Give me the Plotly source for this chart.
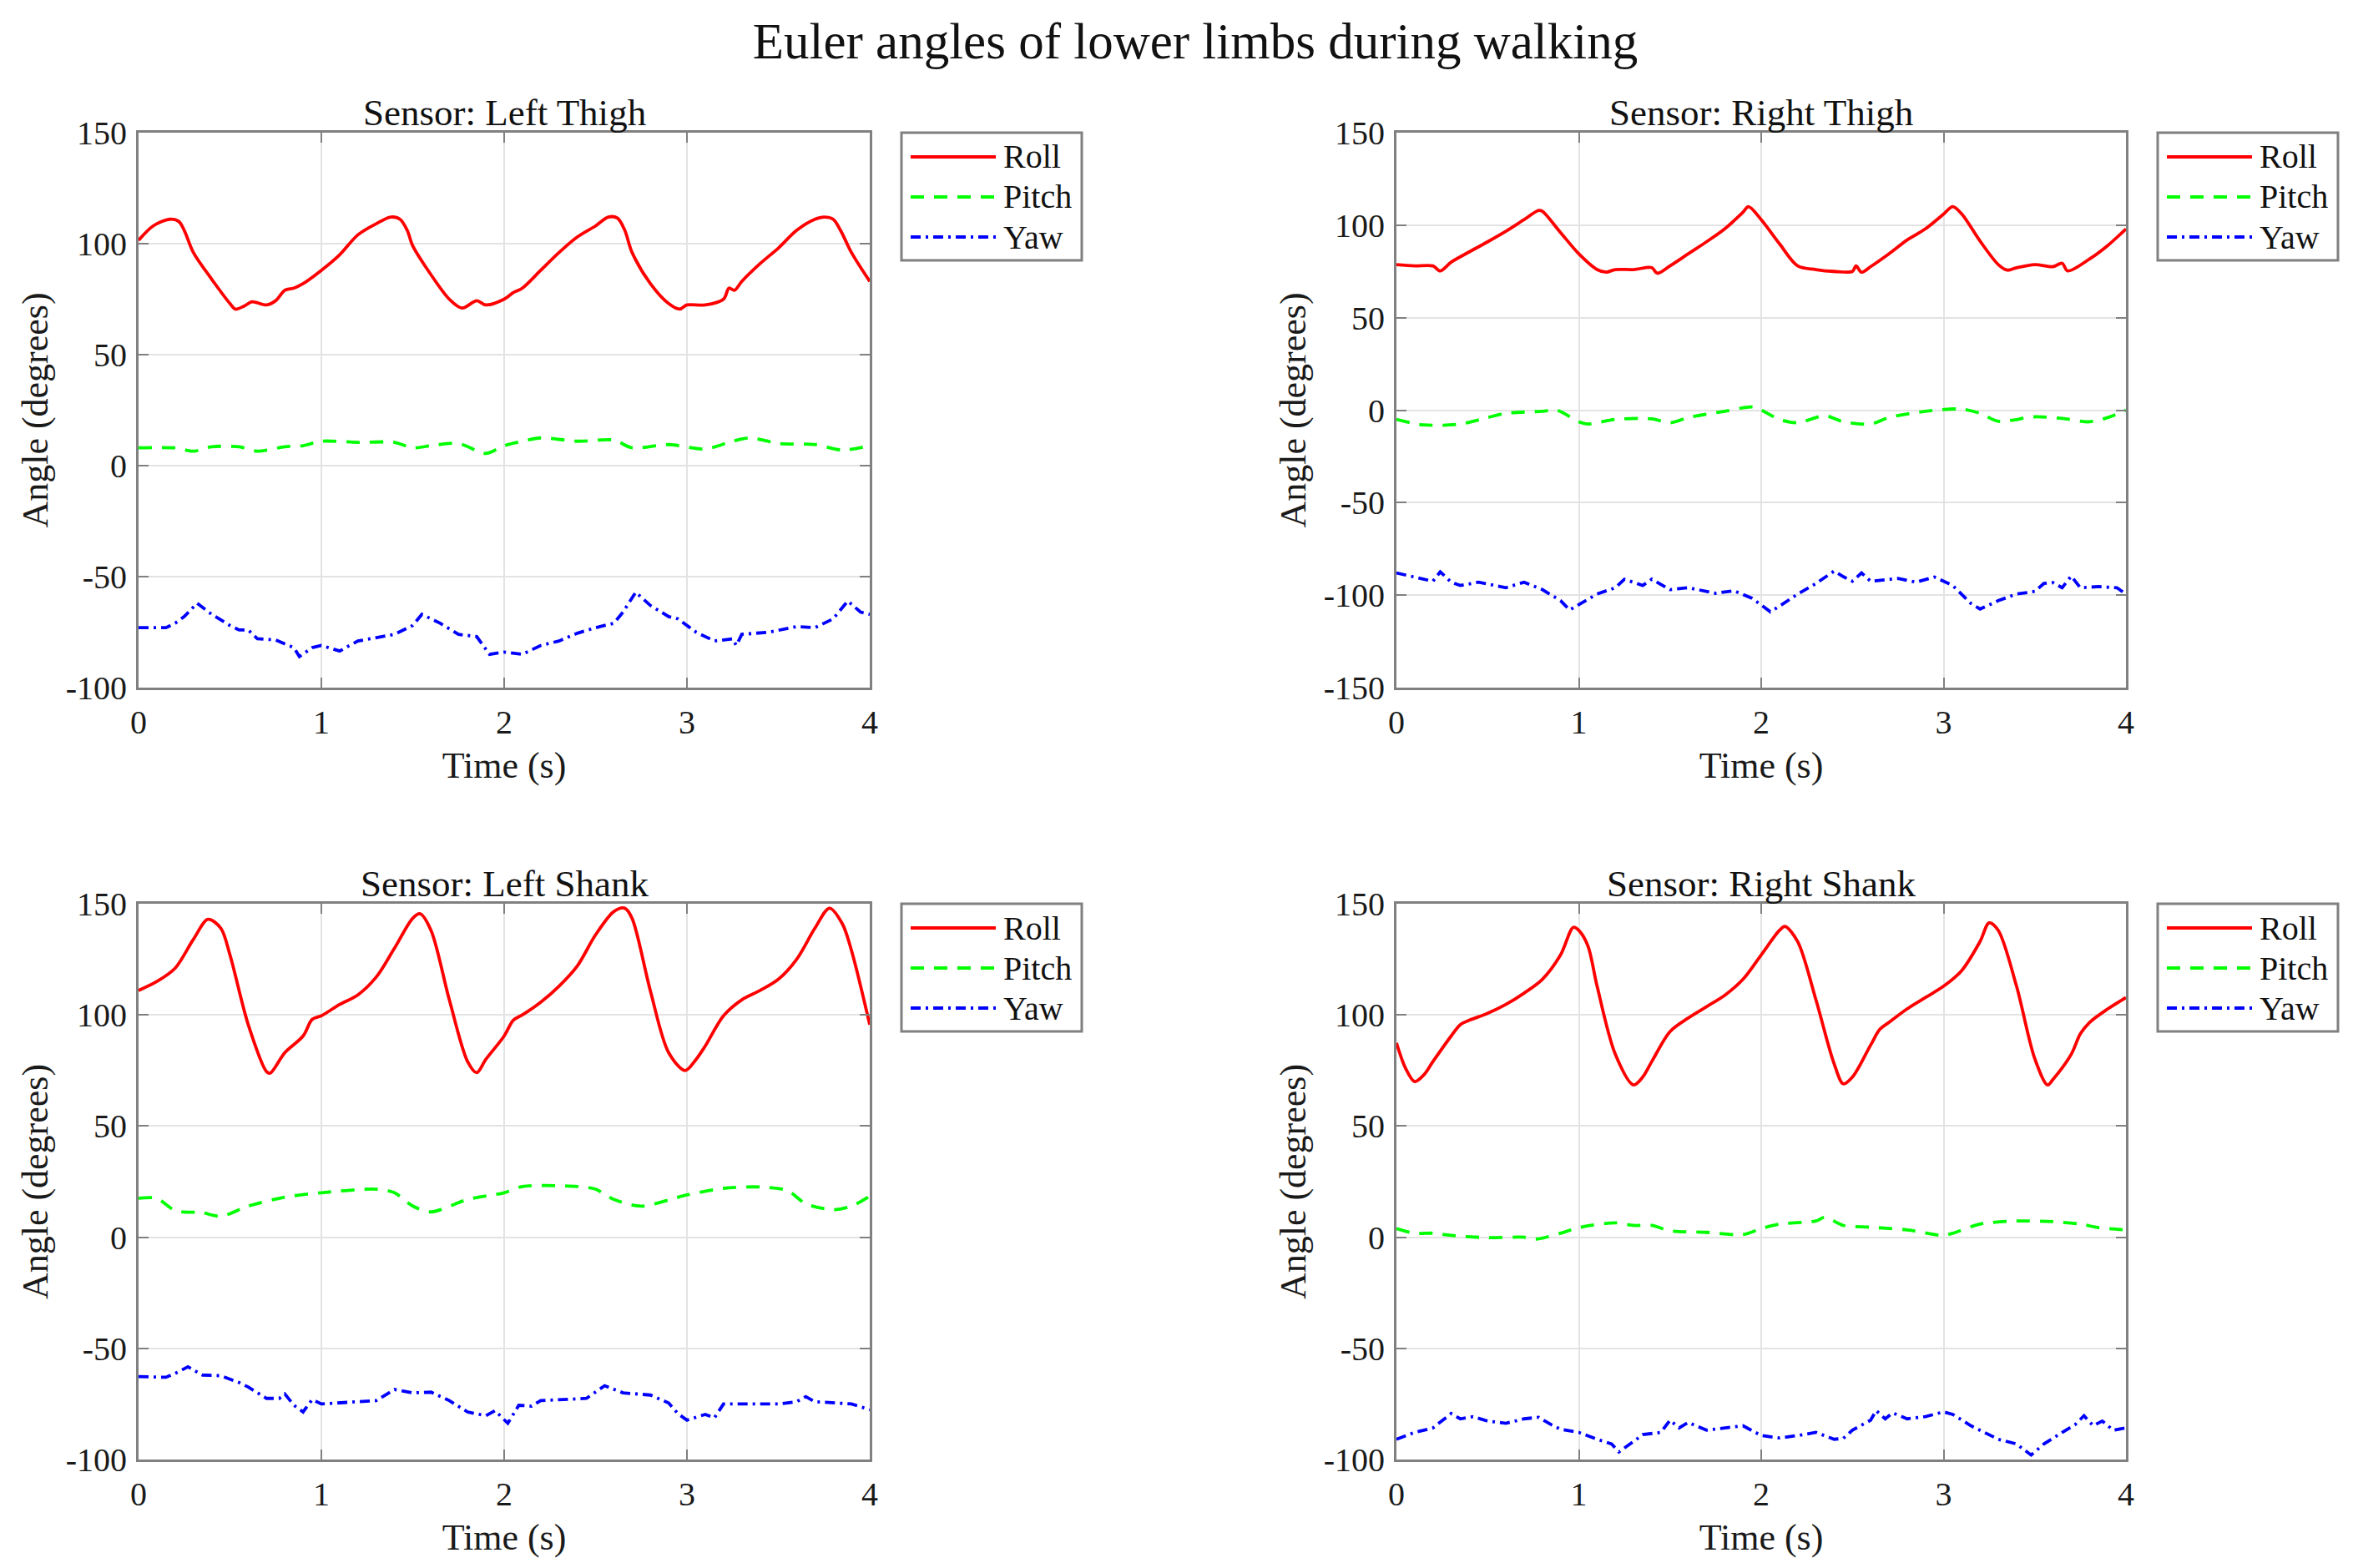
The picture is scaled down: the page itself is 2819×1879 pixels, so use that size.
import plotly.graph_objects as go

# ---------------- data ----------------
panel_titles = ["Sensor: Left Thigh", "Sensor: Right Thigh", "Sensor: Left Shank", "Sensor: Right Shank"]
series_names = ["Roll", "Pitch", "Yaw"]
x_ticks = [0, 1, 2, 3, 4]
x_tick_text = ["0", "1", "2", "3", "4"]
y_ticks_a = [-100, -50, 0, 50, 100, 150]
y_tick_text_a = ["-100", "-50", "0", "50", "100", "150"]
y_ticks_b = [-150, -100, -50, 0, 50, 100, 150]
y_tick_text_b = ["-150", "-100", "-50", "0", "50", "100", "150"]

# Left thigh
lt_roll_t = [0, 0.08, 0.17, 0.22, 0.25, 0.3, 0.4, 0.5, 0.53, 0.58, 0.62, 0.7, 0.75, 0.8, 0.85, 0.9, 1.0, 1.1, 1.2, 1.3,
             1.38, 1.43, 1.47, 1.5, 1.6, 1.7, 1.77, 1.85, 1.9, 2.0, 2.05, 2.1, 2.2, 2.3, 2.4, 2.5, 2.57, 2.62, 2.66,
             2.7, 2.8, 2.9, 2.96, 3.0, 3.1, 3.2, 3.23, 3.26, 3.3, 3.4, 3.5, 3.6, 3.7, 3.75, 3.8, 3.84, 3.9, 4.0]
lt_roll = [101.5, 108, 111, 110, 106, 96, 84, 73, 70.5, 72, 73.8, 72.4, 74.3, 79, 80, 82, 88, 95, 104, 109,
           112, 111, 106, 99, 86, 75, 71, 74.3, 72.4, 75, 78, 80, 88, 96, 103, 108, 112, 111.5, 106,
           96, 82, 73, 70.5, 72.4, 72.4, 75, 80, 79, 83, 91, 98, 106, 111, 112, 111, 106, 96, 83]
lt_pitch_t = [0, 0.2, 0.3, 0.4, 0.55, 0.65, 0.8, 0.9, 1.0, 1.2, 1.4, 1.5, 1.6, 1.75, 1.9, 2.0, 2.1, 2.2, 2.4, 2.6,
              2.7, 2.9, 3.1, 3.25, 3.35, 3.5, 3.7, 3.85, 4.0]
lt_pitch = [8, 8, 6.5, 8.5, 8.5, 6.5, 8.5, 9, 11, 10.5, 10.5, 8, 9, 10, 5.5, 9, 11, 12.5, 11, 11.5,
            8, 9.5, 7.5, 11, 12.5, 10, 9.5, 7, 9]
lt_yaw_t = [0, 0.15, 0.2, 0.25, 0.32, 0.4, 0.5, 0.55, 0.6, 0.65, 0.75, 0.85, 0.88, 0.95, 1.0, 1.1, 1.2, 1.3, 1.4, 1.5,
            1.55, 1.65, 1.75, 1.85, 1.92, 2.0, 2.1, 2.2, 2.3, 2.4, 2.5, 2.6, 2.65, 2.72, 2.8, 2.9, 2.95, 3.05, 3.15,
            3.25, 3.27, 3.3, 3.45, 3.6, 3.7, 3.8, 3.88, 3.95, 4.0]
lt_yaw = [-73, -73, -71, -68, -62, -67, -72, -74, -74, -78, -78.5, -82, -86, -82, -81, -83.5, -79, -77.5, -76, -72,
          -67, -71, -76, -77, -85, -84, -85, -81, -79, -75.5, -73, -71, -66, -57, -63, -68, -69, -75, -79,
          -78, -81, -76, -75, -72.5, -73, -69, -61, -66, -67]

# Right thigh
rt_roll_t = [0, 0.1, 0.2, 0.24, 0.3, 0.4, 0.5, 0.6, 0.7, 0.78, 0.8, 0.9, 1.0, 1.1, 1.15, 1.2, 1.3, 1.4, 1.43, 1.5,
             1.6, 1.7, 1.8, 1.9, 1.93, 2.0, 2.1, 2.2, 2.3, 2.4, 2.5, 2.52, 2.55, 2.6, 2.7, 2.8, 2.9, 3.0, 3.05, 3.1,
             3.2, 3.3, 3.35, 3.4, 3.5, 3.6, 3.65, 3.68, 3.8, 3.9, 4.0]
rt_roll = [78.7, 78, 78, 75.3, 80, 85.6, 91, 96.7, 103, 108, 107.5, 96, 84.5, 76, 74.6, 76, 76, 77, 74, 78,
           84.5, 91, 98, 107, 110, 103, 90, 78, 76, 75, 75, 78, 74.6, 77.6, 84.5, 92, 98, 106, 110, 106,
           91.4, 78.7, 75.7, 77, 78.7, 77.6, 79.4, 75.3, 81.7, 89, 98]
rt_pitch_t = [0, 0.15, 0.35, 0.5, 0.6, 0.8, 0.88, 1.0, 1.05, 1.2, 1.4, 1.5, 1.6, 1.8, 1.95, 2.0, 2.1, 2.2, 2.35,
              2.45, 2.6, 2.7, 2.9, 3.1, 3.2, 3.3, 3.5, 3.65, 3.8, 3.9, 4.0]
rt_pitch = [-5, -8, -7.5, -4, -1.7, -0.6, 0, -6.3, -7.5, -5, -4.7, -6.8, -4, -0.6, 1.7, 0, -5, -6.8, -3,
            -6.3, -7.5, -4, -0.6, 0.6, -1.7, -6, -3.6, -4.5, -6.3, -4, 0]
rt_yaw_t = [0, 0.1, 0.2, 0.24, 0.3, 0.35, 0.45, 0.6, 0.7, 0.8, 0.9, 0.95, 1.0, 1.1, 1.2, 1.25, 1.35, 1.4, 1.5, 1.6,
            1.75, 1.85, 1.95, 2.05, 2.1, 2.2, 2.3, 2.4, 2.45, 2.5, 2.55, 2.6, 2.75, 2.85, 2.95, 3.05, 3.15, 3.2,
            3.3, 3.4, 3.5, 3.55, 3.6, 3.65, 3.7, 3.75, 3.85, 3.95, 4.0]
rt_yaw = [-88, -90.2, -92.5, -87.4, -93, -94.8, -93, -96, -93, -97, -103, -108, -105, -99.4, -96, -91.4, -94.8,
          -91.4, -97, -96, -99, -97.6, -101.7, -109, -106, -99.4, -93.7, -87, -90, -92.5, -88, -92.5, -91, -93,
          -90.2, -94.8, -104.5, -107.5, -103, -99.4, -98, -93.7, -93.2, -96, -89.7, -96, -95.4, -96, -99.4]

# Left shank
ls_roll_t = [0, 0.1, 0.2, 0.3, 0.38, 0.45, 0.5, 0.6, 0.7, 0.72, 0.8, 0.9, 0.95, 1.0, 1.1, 1.2, 1.3, 1.4, 1.5, 1.54,
             1.6, 1.7, 1.8, 1.85, 1.9, 2.0, 2.05, 2.1, 2.2, 2.3, 2.4, 2.5, 2.6, 2.66, 2.7, 2.8, 2.9, 2.99, 3.05, 3.1,
             3.2, 3.3, 3.4, 3.5, 3.6, 3.7, 3.78, 3.85, 3.9, 4.0]
ls_roll = [111, 115, 121, 134, 143, 139, 127, 95.6, 74.5, 73.8, 83, 90.5, 98, 99.6, 104.7, 109, 117, 130, 143.5,
           145.5, 138, 106.8, 79, 74, 80, 90.5, 97.6, 100, 105.7, 112.9, 122, 136, 146.5, 148, 143.4, 110.8, 83, 75,
           80, 86, 99.6, 106.8, 111, 116, 125, 139, 148, 141, 129, 95.6]
ls_pitch_t = [0, 0.1, 0.2, 0.35, 0.45, 0.6, 0.8, 1.0, 1.3, 1.4, 1.5, 1.6, 1.8, 2.0, 2.1, 2.4, 2.5, 2.6, 2.75, 3.0,
              3.2, 3.4, 3.55, 3.65, 3.8, 3.9, 4.0]
ls_pitch = [17.5, 17.5, 12, 11, 9.4, 14, 18, 20, 21.6, 20, 14, 11.4, 17, 20, 22.8, 22.8, 21.6, 17, 14, 19,
            22, 22.6, 21, 15, 12.4, 14, 18.5]
ls_yaw_t = [0, 0.15, 0.2, 0.27, 0.35, 0.45, 0.55, 0.6, 0.7, 0.77, 0.8, 0.85, 0.9, 0.95, 1.0, 1.2, 1.3, 1.4, 1.5, 1.6,
            1.7, 1.8, 1.9, 1.95, 2.02, 2.08, 2.15, 2.2, 2.3, 2.45, 2.55, 2.65, 2.8, 2.9, 2.95, 3.0, 3.1, 3.15, 3.2,
            3.3, 3.5, 3.6, 3.65, 3.7, 3.8, 3.9, 4.0]
ls_yaw = [-62.7, -63, -61.3, -58.3, -62, -62.3, -65.4, -67.4, -72.5, -72.5, -70.5, -75.6, -78.6, -73, -75, -74,
          -73.5, -68.5, -70, -69.7, -73.5, -78.6, -80.3, -78, -83.7, -75.6, -76, -73.5, -73, -72.5, -66.8, -70, -71,
          -74.6, -79.3, -82.3, -79.7, -81.3, -75, -75, -75, -74, -71.7, -74, -74.6, -75, -77.6]

# Right shank
rs_roll_t = [0, 0.05, 0.1, 0.15, 0.2, 0.3, 0.35, 0.4, 0.5, 0.6, 0.7, 0.8, 0.9, 0.97, 1.0, 1.05, 1.1, 1.2, 1.3, 1.35,
             1.4, 1.5, 1.6, 1.7, 1.8, 1.9, 2.0, 2.1, 2.13, 2.2, 2.3, 2.4, 2.45, 2.5, 2.6, 2.65, 2.7, 2.8, 2.9, 3.0,
             3.1, 3.2, 3.25, 3.3, 3.4, 3.5, 3.57, 3.6, 3.7, 3.75, 3.8, 3.9, 4.0]
rs_roll = [87.4, 76, 70, 73, 79, 90.5, 95.6, 97.6, 100.7, 104.7, 109.8, 116, 127, 139.4, 138, 131, 113, 82.3, 68.5,
           72, 79, 92.5, 98.6, 103.7, 108.8, 116, 127, 138, 139.8, 133, 106.8, 78, 69, 72, 86.4, 93.5, 96.6, 102.7,
           107.8, 112.9, 120, 133, 141.4, 138, 112.9, 80.3, 68.5, 71, 82.3, 91.5, 96.6, 102.7, 107.8]
rs_pitch_t = [0, 0.1, 0.2, 0.3, 0.5, 0.7, 0.77, 0.9, 1.0, 1.2, 1.3, 1.4, 1.5, 1.7, 1.9, 2.0, 2.1, 2.3, 2.35, 2.45,
              2.6, 2.8, 3.0, 3.05, 3.2, 3.4, 3.6, 3.75, 3.85, 4.0]
rs_pitch = [3.9, 1.8, 1.8, 0.8, -0.2, 0, -0.8, 1.8, 4.3, 6.5, 5.3, 5.3, 2.9, 2.2, 1.2, 3.9, 5.9, 7.3, 9, 5.3,
            4.5, 3.3, 0.8, 1.8, 5.9, 7.3, 7, 5.9, 4.3, 3.3]
rs_yaw_t = [0, 0.1, 0.2, 0.25, 0.3, 0.35, 0.42, 0.5, 0.6, 0.7, 0.78, 0.85, 0.9, 1.0, 1.1, 1.18, 1.22, 1.3, 1.35,
            1.45, 1.5, 1.55, 1.6, 1.7, 1.8, 1.9, 2.0, 2.1, 2.2, 2.3, 2.4, 2.45, 2.5, 2.6, 2.63, 2.68, 2.72, 2.8, 2.9,
            3.0, 3.05, 3.15, 3.3, 3.4, 3.48, 3.55, 3.65, 3.72, 3.77, 3.82, 3.87, 3.93, 4.0]
rs_yaw = [-90.9, -87.8, -85.8, -82.7, -79.3, -81.7, -80.7, -82.7, -83.7, -81.7, -81, -84.4, -86.4, -87.8, -90.9,
          -93, -96.6, -91.9, -88.8, -87.8, -82.3, -85.8, -83.3, -86.8, -85.8, -84.8, -89.2, -90.3, -89.2, -87.8,
          -90.9, -90.5, -86.8, -82.3, -78, -81.7, -79, -81.7, -80.7, -78.6, -79.7, -84.8, -90.9, -93, -98, -93,
          -87.8, -84.4, -80.3, -84.8, -82.7, -86.8, -85.8]

panels = [
    [(lt_roll_t, lt_roll), (lt_pitch_t, lt_pitch), (lt_yaw_t, lt_yaw)],
    [(rt_roll_t, rt_roll), (rt_pitch_t, rt_pitch), (rt_yaw_t, rt_yaw)],
    [(ls_roll_t, ls_roll), (ls_pitch_t, ls_pitch), (ls_yaw_t, ls_yaw)],
    [(rs_roll_t, rs_roll), (rs_pitch_t, rs_pitch), (rs_yaw_t, rs_yaw)],
]
y_ranges = [[-100, 150], [-150, 150], [-100, 150], [-100, 150]]
y_tick_sets = [(y_ticks_a, y_tick_text_a), (y_ticks_b, y_tick_text_b),
               (y_ticks_a, y_tick_text_a), (y_ticks_a, y_tick_text_a)]

# ---------------- styling ----------------
PAGE_W, PAGE_H = 2819, 1879
BODY = 8                      # default page margin around the plot div
W, H = PAGE_W - 2 * BODY, PAGE_H - 2 * BODY
FONT = "Liberation Serif"
FRAME = "#808080"
TXT = "#1a1a1a"
colors = ["#FF0000", "#00FF00", "#0000FF"]
dashes = ["solid", "16px,12px", "12px,6px,3px,6px"]
line_shapes = ["spline", "spline", "linear"]
smooth = [0.9, 0.8, 0]

def px(xp):
    return (xp - BODY) / W

def py(yp):
    return 1 - (yp - BODY) / H

col_x = [(166, 1042), (1673, 2547)]
row_y = [(159, 824), (1083, 1749)]
legend_left = [1080, 2585]

fig = go.Figure()
layout = dict(
    width=W, height=H, margin=dict(l=0, r=0, t=0, b=0, pad=0, autoexpand=False),
    paper_bgcolor="white", plot_bgcolor="white",
    font=dict(family=FONT, color=TXT, size=40),
    showlegend=False,
    title=dict(text="Euler angles of lower limbs during walking", x=px(1432), y=py(49),
               xanchor="center", yanchor="middle", automargin=False,
               font=dict(family=FONT, size=61, color="#111")),
)
annotations = []
shapes = []

for i, series in enumerate(panels):
    r, c = divmod(i, 2)
    xa = "xaxis" if i == 0 else f"xaxis{i+1}"
    ya = "yaxis" if i == 0 else f"yaxis{i+1}"
    xref = "x" if i == 0 else f"x{i+1}"
    yref = "y" if i == 0 else f"y{i+1}"
    for k, (t, v) in enumerate(series):
        ln = dict(color=colors[k], width=3.8, dash=dashes[k], shape=line_shapes[k])
        if line_shapes[k] == "spline":
            ln["smoothing"] = smooth[k]
        fig.add_trace(go.Scatter(
            x=t, y=v, mode="lines", name=series_names[k], xaxis=xref, yaxis=yref,
            line=ln, showlegend=False,
        ))
    common = dict(showline=True, mirror="ticks", linecolor=FRAME, linewidth=3,
                  ticks="inside", ticklen=12, tickwidth=2, tickcolor=FRAME,
                  showgrid=True, gridcolor="#e3e3e3", gridwidth=2, zeroline=False,
                  automargin=False,
                  tickfont=dict(family=FONT, size=40, color=TXT))
    layout[xa] = dict(common, domain=[px(col_x[c][0]), px(col_x[c][1])], anchor=yref,
                      range=[0, 4], tickvals=x_ticks, ticktext=x_tick_text, ticklabelstandoff=4,
                      title=dict(text="Time (s)", font=dict(family=FONT, size=44, color=TXT), standoff=15))
    yt, ytt = y_tick_sets[i]
    layout[ya] = dict(common, domain=[py(row_y[r][1]), py(row_y[r][0])], anchor=xref,
                      range=y_ranges[i], tickvals=yt, ticktext=ytt, ticklabelstandoff=3,
                      title=dict(text="Angle (degrees)", font=dict(family=FONT, size=44, color=TXT), standoff=8))
    # subplot title
    annotations.append(dict(text=panel_titles[i], xref="paper", yref="paper",
                            x=px((col_x[c][0] + col_x[c][1]) / 2), y=py(row_y[r][0] - 24),
                            xanchor="center", yanchor="middle", showarrow=False,
                            font=dict(family=FONT, size=45, color="#111")))
    # legend box (MATLAB style, long line samples)
    bx0 = legend_left[c]
    by0 = row_y[r][0]
    shapes.append(dict(type="rect", xref="paper", yref="paper",
                       x0=px(bx0), x1=px(bx0 + 216), y0=py(by0), y1=py(by0 + 153),
                       line=dict(color=FRAME, width=3), fillcolor="white"))
    for k in range(3):
        yy = by0 + 29 + 48 * k
        shapes.append(dict(type="line", xref="paper", yref="paper",
                           x0=px(bx0 + 11), x1=px(bx0 + 113), y0=py(yy), y1=py(yy),
                           line=dict(color=colors[k], width=3.8, dash=dashes[k])))
        annotations.append(dict(text=series_names[k], xref="paper", yref="paper",
                                x=px(bx0 + 120), y=py(yy), xanchor="left", yanchor="middle",
                                showarrow=False, font=dict(family=FONT, size=40, color="#111")))

layout["annotations"] = annotations
layout["shapes"] = shapes
fig.update_layout(**layout)
fig.write_html("out.html")
